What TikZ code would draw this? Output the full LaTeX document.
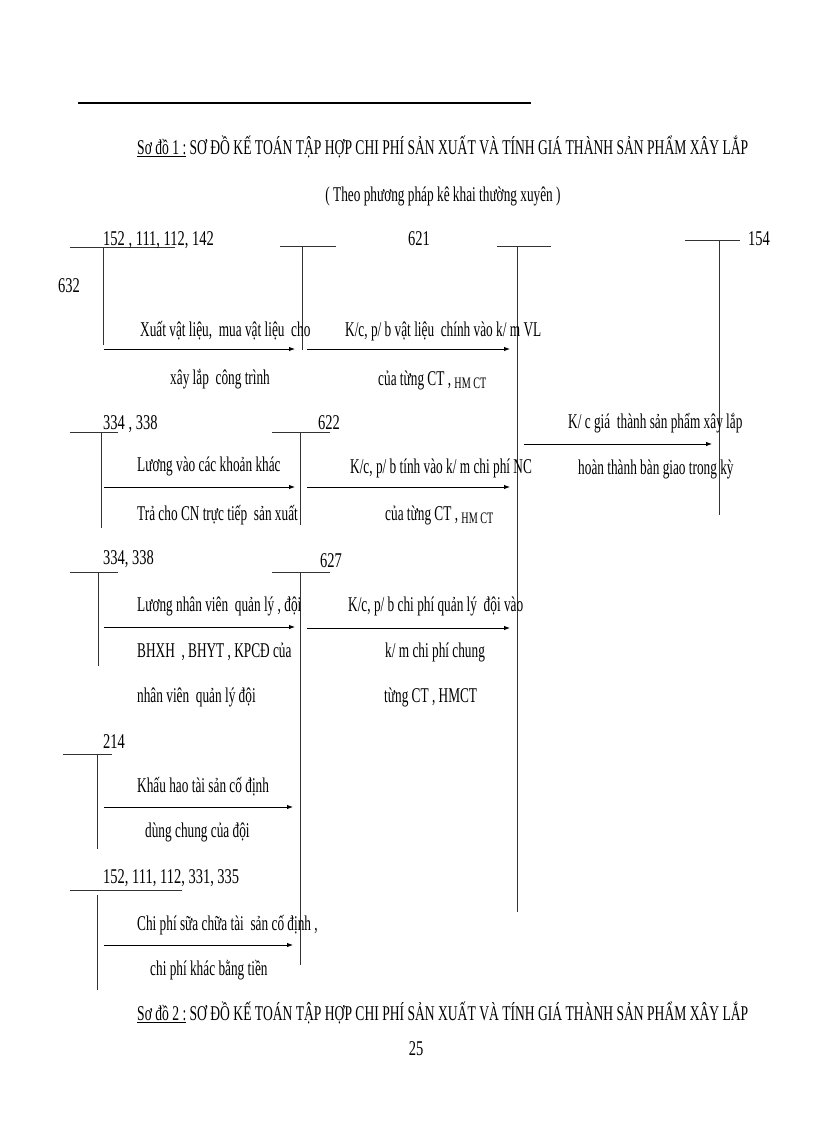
\documentclass[tikz,border=0pt]{standalone}
\usepackage{fontspec}
\setmainfont{Liberation Serif}[FakeStretch=0.633]
\newfontfamily\titlefont{Liberation Serif}[FakeStretch=0.647]
\newfontfamily\numfont{Liberation Serif}[FakeStretch=0.69]
\usetikzlibrary{arrows.meta}
\tikzset{
  txt/.style={anchor=base west, inner sep=0pt, font=\fontsize{21}{24}\selectfont},
  num/.style={txt, font=\fontsize{21}{24}\numfont},
  ttl/.style={txt, font=\fontsize{21}{24}\titlefont},
  acct/.style={line width=0.8pt, black!80},
  flow/.style={line width=0.9pt, -{Latex[length=6pt,width=4.5pt]}},
}
\newcommand{\smallhm}[1]{\raisebox{-3pt}{\fontsize{16}{16}\selectfont #1}}
\begin{document}
\begin{tikzpicture}[x=1pt,y=-1pt]
\useasboundingbox (0,0) rectangle (816,1123);
% top rule
\coordinate (r1) at (78,103); \coordinate (r2) at (531,103);
\draw[line width=1.3pt] (r1) -- (r2);
% titles
\node[ttl] (t1) at (137,155) {\underline{Sơ đồ 1 :} SƠ ĐỒ KẾ TOÁN TẬP HỢP CHI PHÍ SẢN XUẤT VÀ TÍNH GIÁ THÀNH SẢN PHẨM XÂY LẮP};
\node[txt, anchor=base] (t1b) at (443,202) {( Theo phương pháp kê khai thường xuyên )};
% ---- T accounts
% 152,111,112,142
\coordinate (a1l) at (70,247); \coordinate (a1r) at (175,247);
\coordinate (a1t) at (103,247); \coordinate (a1b) at (103,345);
\draw[acct] (a1l) -- (a1r); \draw[acct] (a1t) -- (a1b);
\node[num] (l1) at (103,245) {152 , 111, 112, 142};
\node[num] (l632) at (58,292) {632};
% 621
\coordinate (a2l) at (280,246); \coordinate (a2r) at (336,246);
\coordinate (a2t) at (302,246); \coordinate (a2b) at (302,350);
\draw[acct] (a2l) -- (a2r); \draw[acct] (a2t) -- (a2b);
\node[num] (l621) at (408,245) {621};
% middle collector
\coordinate (a3l) at (497,246); \coordinate (a3r) at (551,246);
\coordinate (a3t) at (517,246); \coordinate (a3b) at (517,912);
\draw[acct] (a3l) -- (a3r); \draw[acct] (a3t) -- (a3b);
% 154 right
\coordinate (a4l) at (685,240); \coordinate (a4r) at (740,240);
\coordinate (a4t) at (719,240); \coordinate (a4b) at (719,515);
\draw[acct] (a4l) -- (a4r); \draw[acct] (a4t) -- (a4b);
\node[num] (l154) at (748,245) {154};
% 334,338 row 2
\coordinate (a5l) at (70,432); \coordinate (a5r) at (118,432);
\coordinate (a5t) at (101,432); \coordinate (a5b) at (101,528);
\draw[acct] (a5l) -- (a5r); \draw[acct] (a5t) -- (a5b);
\node[num] (l334a) at (103,429) {334 , 338};
% 622
\coordinate (a6l) at (272,432); \coordinate (a6r) at (330,432);
\coordinate (a6t) at (300,432); \coordinate (a6b) at (300,525);
\draw[acct] (a6l) -- (a6r); \draw[acct] (a6t) -- (a6b);
\node[num] (l622) at (318,429) {622};
% 334,338 row 3
\coordinate (a7l) at (70,572); \coordinate (a7r) at (118,572);
\coordinate (a7t) at (98,572); \coordinate (a7b) at (98,666);
\draw[acct] (a7l) -- (a7r); \draw[acct] (a7t) -- (a7b);
\node[num] (l334b) at (103,564) {334, 338};
% 627
\coordinate (a8l) at (272,572); \coordinate (a8r) at (330,572);
\coordinate (a8t) at (300,572); \coordinate (a8b) at (300,965);
\draw[acct] (a8l) -- (a8r); \draw[acct] (a8t) -- (a8b);
\node[num] (l627) at (320,567) {627};
% 214
\coordinate (a9l) at (63,754); \coordinate (a9r) at (112,754);
\coordinate (a9t) at (97,754); \coordinate (a9b) at (97,849);
\draw[acct] (a9l) -- (a9r); \draw[acct] (a9t) -- (a9b);
\node[num] (l214) at (103,748) {214};
% 152,111,112,331,335
\coordinate (a10l) at (70,890); \coordinate (a10r) at (182,890);
\coordinate (a10t) at (97,895); \coordinate (a10b) at (97,990);
\draw[acct] (a10l) -- (a10r); \draw[acct] (a10t) -- (a10b);
\node[num] (l152b) at (103,883) {152, 111, 112, 331, 335};
% ---- flows
\coordinate (f1s) at (104,349); \coordinate (f1e) at (295,349);
\draw[flow] (f1s) -- (f1e);
\node[txt] (x1a) at (140,336) {Xuất vật liệu,\ \ mua vật liệu\ \ cho};
\node[txt] (x1b) at (170,384) {xây lắp\ \ công trình};
\coordinate (f2s) at (307,349); \coordinate (f2e) at (510,349);
\draw[flow] (f2s) -- (f2e);
\node[txt] (x2a) at (345,336) {K/c, p/ b vật liệu\ \ chính vào k/ m VL};
\node[txt] (x2b) at (378,385) {của từng CT , \smallhm{HM CT}};
\coordinate (f3s) at (104,487); \coordinate (f3e) at (295,487);
\draw[flow] (f3s) -- (f3e);
\node[txt] (x3a) at (137,471) {Lương vào các khoản khác};
\node[txt] (x3b) at (137,520) {Trả cho CN trực tiếp\ \ sản xuất};
\coordinate (f4s) at (307,487); \coordinate (f4e) at (510,487);
\draw[flow] (f4s) -- (f4e);
\node[txt] (x4a) at (350,473) {K/c, p/ b tính vào k/ m chi phí NC};
\node[txt] (x4b) at (385,520) {của từng CT , \smallhm{HM CT}};
\coordinate (f5s) at (524,444); \coordinate (f5e) at (712,444);
\draw[flow] (f5s) -- (f5e);
\node[txt] (x5a) at (568,428) {K/ c giá\ \ thành sản phẩm xây lắp};
\node[txt] (x5b) at (578,474) {hoàn thành bàn giao trong kỳ};
\coordinate (f6s) at (104,627); \coordinate (f6e) at (295,627);
\draw[flow] (f6s) -- (f6e);
\node[txt] (x6a) at (137,611) {Lương nhân viên\ \ quản lý , đội};
\node[txt] (x6b) at (137,657) {BHXH\ \ , BHYT , KPCĐ của};
\node[txt] (x6c) at (137,702) {nhân viên\ \ quản lý đội};
\coordinate (f7s) at (307,628); \coordinate (f7e) at (510,628);
\draw[flow] (f7s) -- (f7e);
\node[txt] (x7a) at (348,611) {K/c, p/ b chi phí quản lý\ \ đội vào};
\node[txt] (x7b) at (385,657) {k/ m chi phí chung};
\node[txt] (x7c) at (384,702) {từng CT , HMCT};
\coordinate (f8s) at (104,807); \coordinate (f8e) at (293,807);
\draw[flow] (f8s) -- (f8e);
\node[txt] (x8a) at (137,792) {Khấu hao tài sản cố định};
\node[txt] (x8b) at (145,837) {dùng chung của đội};
\coordinate (f9s) at (104,945); \coordinate (f9e) at (293,945);
\draw[flow] (f9s) -- (f9e);
\node[txt] (x9a) at (137,930) {Chi phí sữa chữa tài\ \ sản cố định ,};
\node[txt] (x9b) at (150,975) {chi phí khác bằng tiền};
% bottom
\node[ttl] (t2) at (137,1020) {\underline{Sơ đồ 2 :} SƠ ĐỒ KẾ TOÁN TẬP HỢP CHI PHÍ SẢN XUẤT VÀ TÍNH GIÁ THÀNH SẢN PHẨM XÂY LẮP};
\node[num, anchor=base] (pg) at (416,1055) {25};
\end{tikzpicture}
\end{document}
